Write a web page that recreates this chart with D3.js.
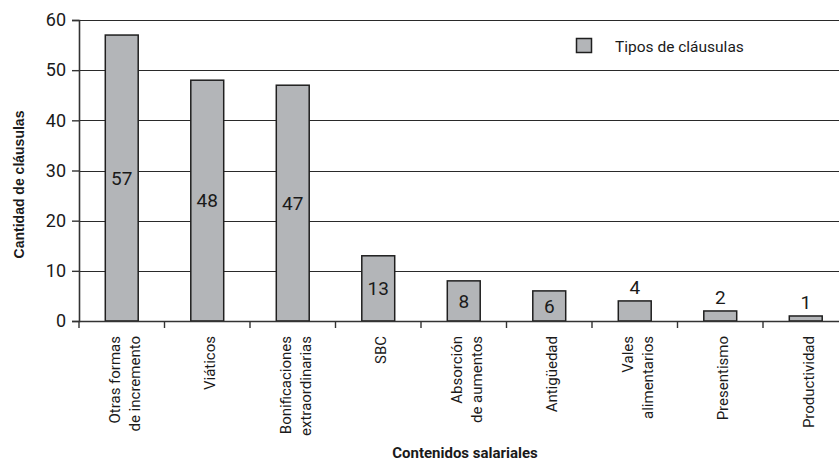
<!DOCTYPE html>
<html>
<head>
<meta charset="utf-8">
<script src="https://cdn.jsdelivr.net/npm/d3@7"></script>
<style>
  body { margin: 0; background: #fff; }
  svg { display: block; }
  text { font-family: Roboto, "Noto Sans", sans-serif; fill: #1a1a1a; }
</style>
</head>
<body>
<svg id="chart" width="839" height="462"></svg>
<script>
    // data
    var categories = [
        ["Otras formas", "de incremento"],
        ["Viáticos"],
        ["Bonificaciones", "extraordinarias"],
        ["SBC"],
        ["Absorción", "de aumentos"],
        ["Antigüedad"],
        ["Vales", "alimentarios"],
        ["Presentismo"],
        ["Productividad"]
    ];
    var values = [57, 48, 47, 13, 8, 6, 4, 2, 1];
    var yTicks = [0, 10, 20, 30, 40, 50, 60];
    var seriesName = "Tipos de cláusulas";

    var LEFT = 79, TOP = 20, BOTTOM = 321, RIGHT = 848.5;
    var BAR_FRAC = 0.385;
    var BAR_FILL = "#b3b5b8", BAR_STROKE = "#1f1f1f";

    var svg = d3.select("#chart");

    var xScale = d3.scaleBand()
        .domain(d3.range(categories.length))
        .range([LEFT, RIGHT])
        .padding(0);
    var yScale = d3.scaleLinear().domain([0, 60]).range([BOTTOM, TOP]);

    // gridlines
    svg.append("g").attr("class","grid")
        .selectAll("line")
        .data(yTicks.filter(function(d){return d > 0}))
        .enter().append("line")
        .attr("x1", LEFT).attr("x2", 839)
        .attr("y1", function(d){return Math.round(yScale(d)) + 0.5})
        .attr("y2", function(d){return Math.round(yScale(d)) + 0.5})
        .attr("stroke", "#2a2a2a")
        .attr("stroke-width", 1.2);

    // y axis
    var yAxis = d3.axisLeft(yScale).tickValues(yTicks).tickSize(7).tickPadding(6);
    var gy = svg.append("g")
        .attr("transform","translate(" + LEFT + ",0)")
        .call(yAxis);
    gy.select(".domain").attr("stroke","#333").attr("stroke-width",1.6);
    gy.selectAll(".tick line").attr("stroke","#333").attr("stroke-width",1.4);
    gy.selectAll(".tick text")
        .style("font-size","18px")
        .style("font-family","Roboto, sans-serif")
        .attr("fill","#1a1a1a");

    // bars
    var bw = xScale.bandwidth() * BAR_FRAC;
    svg.append("g").selectAll("rect")
        .data(values)
        .enter().append("rect")
        .attr("x", function(d,i){return xScale(i) + xScale.bandwidth()/2 - bw/2})
        .attr("y", function(d){return yScale(d)})
        .attr("width", bw)
        .attr("height", function(d){return yScale(0) - yScale(d)})
        .attr("fill", BAR_FILL)
        .attr("stroke", BAR_STROKE)
        .attr("stroke-width", 1.5);

    // value labels
    svg.append("g").selectAll("text")
        .data(values)
        .enter().append("text")
        .attr("x", function(d,i){return xScale(i) + xScale.bandwidth()/2})
        .attr("y", function(d){
            if (d >= 5) return (yScale(d) + yScale(0)) / 2;
            return yScale(d) - 14;
        })
        .attr("dy","0.36em")
        .attr("text-anchor","middle")
        .style("font-size","19px")
        .text(function(d){return d});

    // x axis
    var gx = svg.append("g");
    gx.append("line")
        .attr("x1", LEFT).attr("x2", 839)
        .attr("y1", BOTTOM + 0.5).attr("y2", BOTTOM + 0.5)
        .attr("stroke","#333").attr("stroke-width",1.6);
    gx.selectAll("line.tick")
        .data(d3.range(categories.length + 1))
        .enter().append("line")
        .attr("class","tick")
        .attr("x1", function(i){return LEFT + i * xScale.step()})
        .attr("x2", function(i){return LEFT + i * xScale.step()})
        .attr("y1", BOTTOM).attr("y2", BOTTOM + 7)
        .attr("stroke","#333").attr("stroke-width",1.4);

    // category labels (rotated)
    categories.forEach(function(lines, i){
        var cx = xScale(i) + xScale.bandwidth()/2;
        lines.forEach(function(line, j){
            var bx = cx + 8 + (j - (lines.length - 1)/2) * 20;
            svg.append("text")
                .attr("transform","translate(" + bx + ",336) rotate(-90)")
                .attr("text-anchor","end")
                .style("font-size","15px")
                .text(line);
        });
    });

    // axis titles
    svg.append("text")
        .attr("transform","translate(24,184.5) rotate(-90)")
        .attr("text-anchor","middle")
        .style("font-family","'Liberation Sans', Arial, sans-serif")
        .style("font-weight","bold")
        .style("font-size","14px")
        .text("Cantidad de cláusulas");

    svg.append("text")
        .attr("x", 465).attr("y", 458)
        .attr("text-anchor","middle")
        .style("font-weight","bold")
        .style("font-size","15px")
        .text("Contenidos salariales");

    // legend
    var legend = svg.append("g").attr("transform","translate(576,38)");
    legend.append("rect")
        .attr("x",0.5).attr("y",0.5)
        .attr("width",15).attr("height",14)
        .attr("fill", BAR_FILL)
        .attr("stroke", BAR_STROKE)
        .attr("stroke-width",1.5);
    legend.append("text")
        .attr("x",39).attr("y",14)
        .style("font-size","15.5px")
        .text(seriesName);
</script>
</body>
</html>
